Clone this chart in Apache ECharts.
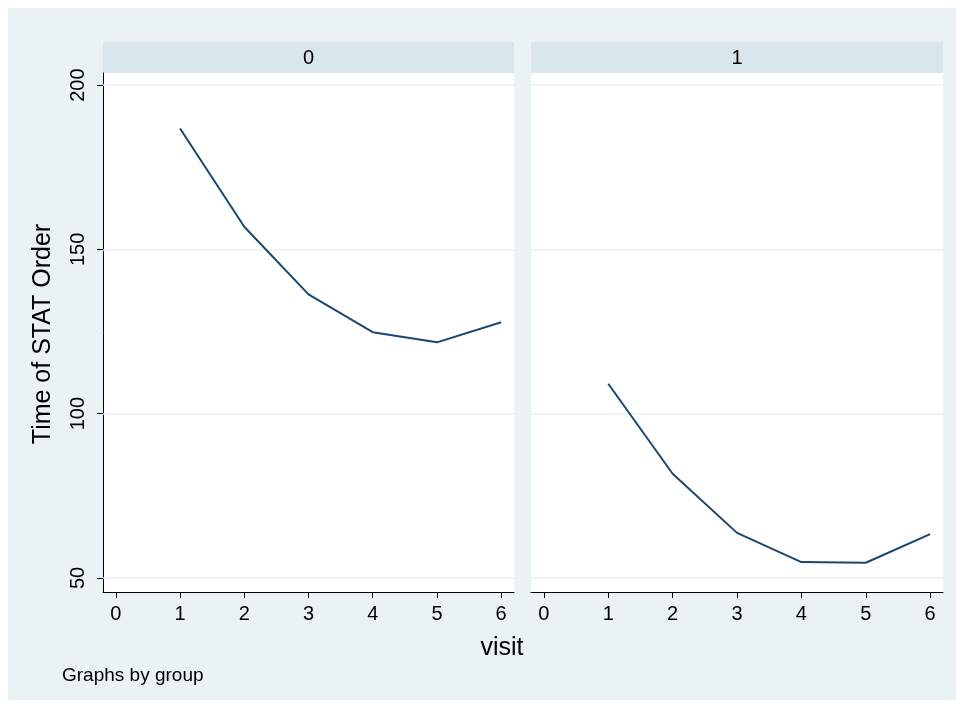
<!DOCTYPE html>
<html>
<head>
<meta charset="utf-8">
<script src="https://cdn.jsdelivr.net/npm/echarts@6/dist/echarts.min.js"></script>
<style>
html,body{margin:0;padding:0;background:#ffffff;}
#chart{width:964px;height:708px;}
</style>
</head>
<body>
<div id="chart"></div>
<script>
// ---- data ----
var visits = [1, 2, 3, 4, 5, 6];
var group0 = [186.8, 156.9, 136.3, 124.8, 121.7, 127.8];
var group1 = [109.1, 81.7, 63.7, 54.8, 54.6, 63.3];
var groupNames = ['0', '1'];
var yTicks = [50, 100, 150, 200];
var xTicks = [0, 1, 2, 3, 4, 5, 6];
var yTitle = 'Time of STAT Order';
var xTitle = 'visit';
var note = 'Graphs by group';

var FONT = '"Liberation Sans", Arial, sans-serif';
var LINE = '#1a476f';
var GRID_C = '#eaf2f3';

function pairs(xs, ys) { return xs.map(function (x, i) { return [x, ys[i]]; }); }

var chart = echarts.init(document.getElementById('chart'), null, {renderer: 'canvas'});

var grids = [
  {left: 103, top: 73, width: 411, height: 519},
  {left: 531, top: 73, width: 412, height: 519}
];

function xAxisFor(i) {
  return {
    type: 'value', gridIndex: i, min: -0.2, max: 6.2,
    axisLine: {show: true, onZero: false, lineStyle: {color: '#000', width: 1}},
    axisTick: {show: true, inside: false, length: 6, customValues: xTicks, lineStyle: {color: '#000', width: 1}},
    axisLabel: {show: true, customValues: xTicks, margin: 12, fontSize: 20, fontFamily: FONT, color: '#000'},
    splitLine: {show: false}
  };
}
function yAxisFor(i) {
  return {
    type: 'value', gridIndex: i, min: 45.7, max: 203.7,
    axisLine: {show: i === 0, onZero: false, lineStyle: {color: '#000', width: 1}},
    axisTick: {show: i === 0, inside: false, length: 6, customValues: yTicks, lineStyle: {color: '#000', width: 1}},
    axisLabel: {show: i === 0, customValues: yTicks, rotate: 90, margin: 15, fontSize: 20, fontFamily: FONT, color: '#000'},
    splitLine: {show: false}
  };
}

function gridSeries(i) {
  return {
    type: 'line', xAxisIndex: i, yAxisIndex: i, data: [], z: 1, silent: true,
    markLine: {
      silent: true, symbol: ['none', 'none'], animation: false,
      label: {show: false},
      lineStyle: {color: GRID_C, width: 1.5, type: 'solid'},
      data: yTicks.map(function (v) { return {yAxis: v}; })
    }
  };
}
function dataSeries(i, ys) {
  return {
    type: 'line', xAxisIndex: i, yAxisIndex: i, z: 5,
    data: pairs(visits, ys), showSymbol: false, symbol: 'none',
    lineStyle: {color: LINE, width: 2}, animation: false
  };
}

var option = {
  backgroundColor: '#ffffff',
  animation: false,
  grid: grids,
  xAxis: [xAxisFor(0), xAxisFor(1)],
  yAxis: [yAxisFor(0), yAxisFor(1)],
  series: [gridSeries(0), gridSeries(1), dataSeries(0, group0), dataSeries(1, group1)],
  graphic: [
    {type: 'rect', z: -10, silent: true, shape: {x: 8, y: 8, width: 948, height: 692}, style: {fill: '#eaf2f3'}},
    {type: 'rect', z: -5, silent: true, shape: {x: 103, y: 73, width: 411, height: 519}, style: {fill: '#ffffff'}},
    {type: 'rect', z: -5, silent: true, shape: {x: 531, y: 73, width: 412, height: 519}, style: {fill: '#ffffff'}},
    {type: 'rect', z: -5, silent: true, shape: {x: 103, y: 42, width: 411, height: 31}, style: {fill: '#d9e6eb'}},
    {type: 'rect', z: -5, silent: true, shape: {x: 531, y: 42, width: 412, height: 31}, style: {fill: '#d9e6eb'}},
    {type: 'text', x: 308.5, y: 58, style: {text: groupNames[0], font: '20px ' + FONT, fill: '#000', textAlign: 'center', textVerticalAlign: 'middle'}},
    {type: 'text', x: 737, y: 58, style: {text: groupNames[1], font: '20px ' + FONT, fill: '#000', textAlign: 'center', textVerticalAlign: 'middle'}},
    {type: 'text', x: 43, y: 334, rotation: Math.PI / 2, style: {text: yTitle, font: '25px ' + FONT, fill: '#000', textAlign: 'center', textVerticalAlign: 'middle'}},
    {type: 'text', x: 502, y: 648, style: {text: xTitle, font: '25px ' + FONT, fill: '#000', textAlign: 'center', textVerticalAlign: 'middle'}},
    {type: 'text', x: 62, y: 676, style: {text: note, font: '19px ' + FONT, fill: '#000', textAlign: 'left', textVerticalAlign: 'middle'}}
  ]
};
chart.setOption(option);
</script>
</body>
</html>
